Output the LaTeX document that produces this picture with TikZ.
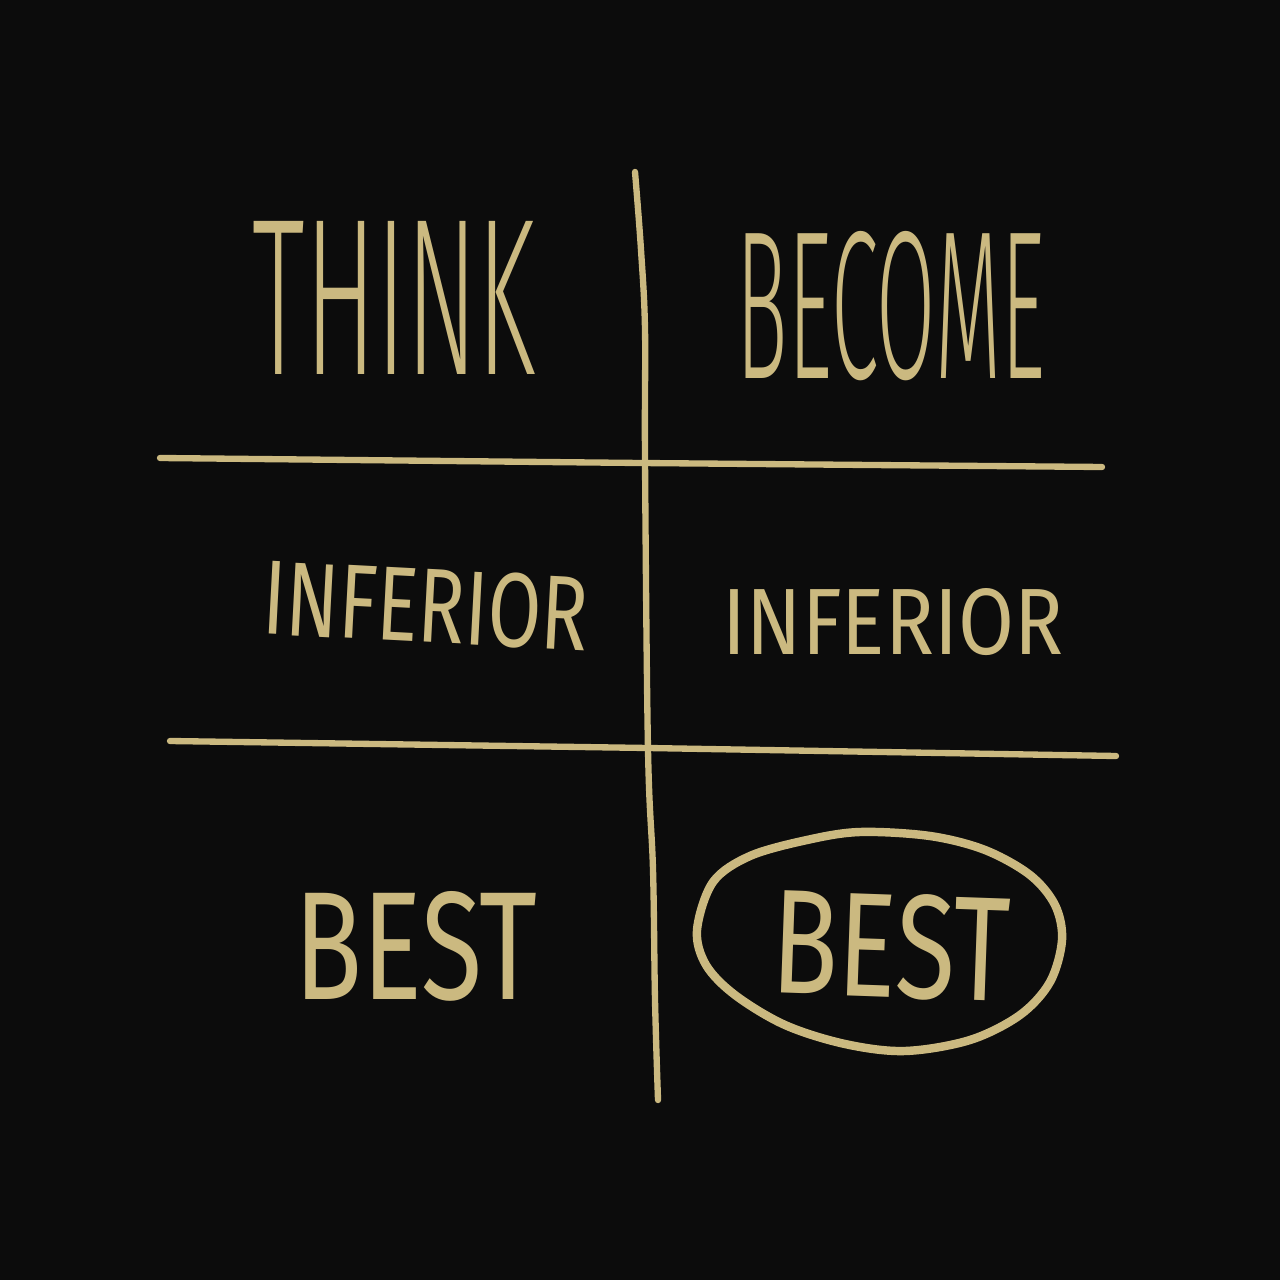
\documentclass[tikz,border=0pt]{standalone}
\usepackage{fontspec}
\usepackage{graphicx}
\newfontfamily\chalkfont{Fira Sans Light}
\newfontfamily\chalkfontbold{Fira Sans}
\usetikzlibrary{positioning, calc}

\definecolor{board}{RGB}{12,12,12}
\definecolor{chalk}{RGB}{203,185,128}

% word squeezed to the size it has on the board
\newcommand{\chalkword}[3]{\resizebox{#1}{#2}{\chalkfont #3}}
\newcommand{\chalkwordfat}[3]{\resizebox{#1}{#2}{\chalkfontbold #3}}

\begin{document}
\begin{tikzpicture}[
  x=0.01cm, y=-0.01cm,
  chalkline/.style={
    draw=chalk,
    line width=1.8pt,
    line cap=round,
    line join=round,
  },
  word/.style={
    text=chalk,
    inner sep=0pt,
    anchor=center,
  },
]
% --- Board ---
\fill[board] (0,0) rectangle (1280,1280);
\useasboundingbox (0,0) rectangle (1280,1280);

% --- Grid ---
\coordinate (VTop) at (635,172);
\coordinate (VBot) at (658,1100);
\coordinate (H1West) at (160,458);
\coordinate (H1East) at (1102,467);
\coordinate (H2West) at (170,741);
\coordinate (H2East) at (1116,756);
\draw[chalkline] plot[smooth, tension=0.6] coordinates {
  (VTop) (641,250) (645,330) (645,460) (648,750) (653,870) (655,1000) (VBot)};
\draw[chalkline] (H1West) -- (640,463) -- (H1East);
\draw[chalkline] (H2West) -- (648,748) -- (H2East);

% --- Headings ---
\node[word] (Think) at (394,298) {\chalkword{2.82cm}{1.53cm}{THINK}};
\node[word] (Become) at (891,306) {\chalkword{3.08cm}{1.47cm}{BECOME}};

% --- Middle row ---
\node[word, rotate=-3] (InfLeft) at (426,606) {\chalkwordfat{3.25cm}{0.74cm}{INFERIOR}};
\node[word] (InfRight) at (893,622) {\chalkwordfat{3.40cm}{0.66cm}{INFERIOR}};

% --- Bottom row ---
\node[word] (BestLeft) at (416,946) {\chalkwordfat{2.43cm}{1.08cm}{BEST}};
\node[word, rotate=-2] (BestRight) at (891,946) {\chalkwordfat{2.38cm}{1.04cm}{BEST}};

% Ring drawn by hand round the winning word
\draw[chalkline, line width=2.4pt] plot[smooth cycle, tension=0.55] coordinates {
  (697,930) (713,882) (750,856) (807,840) (860,832) (930,836) (985,850)
  (1030,875) (1055,905) (1062,940) (1050,982) (1020,1015) (970,1040)
  (905,1051) (845,1044) (785,1025) (735,995) (706,965)};
\end{tikzpicture}
\end{document}
